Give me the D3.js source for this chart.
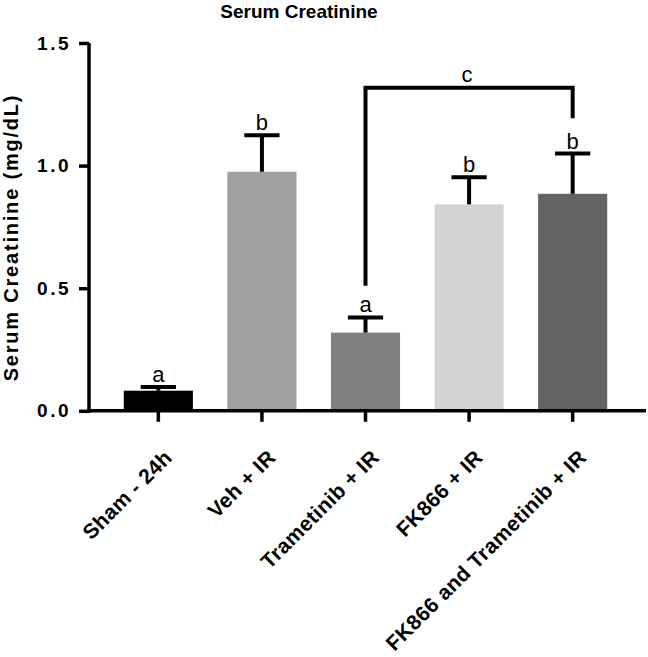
<!DOCTYPE html>
<html>
<head>
<meta charset="utf-8">
<script src="https://cdn.jsdelivr.net/npm/d3@7"></script>
<style>
  html, body { margin: 0; padding: 0; background: #fff; }
  svg { display: block; }
  text { font-family: "Liberation Sans", Arial, sans-serif; fill: #000; }
</style>
</head>
<body>
<svg id="chart" width="648" height="657"></svg>
<script>
// ---- data ----
const categories = ["Sham - 24h", "Veh + IR", "Trametinib + IR", "FK866 + IR", "FK866 and Trametinib + IR"];
const means      = [0.082, 0.975, 0.319, 0.842, 0.885];
const errors     = [0.015, 0.149, 0.062, 0.110, 0.164];
const colors     = ["#000000", "#a0a0a0", "#808080", "#d3d3d3", "#636363"];
const letters    = ["a", "b", "a", "b", "b"];
const yTicks     = [0, 0.5, 1.0, 1.5];
const bracket    = { from: 2, to: 4, level: 1.317, fromEnd: 0.51, toEnd: 1.193, label: "c" };
const title      = "Serum Creatinine";
const yLabel     = "Serum Creatinine (mg/dL)";

// ---- layout ----
const svg = d3.select("#chart");
svg.append("rect").attr("width", 648).attr("height", 657).attr("fill", "#fff");

const axisX0 = 89, axisX1 = 646;
const y = d3.scaleLinear().domain([0, 1.5]).range([410.8, 43]);
const x = d3.scaleBand().domain(categories).range([89.3, 641.7])
  .paddingInner(0.333).paddingOuter(0.333);
const bw = x.bandwidth();
const cx = c => x(c) + bw / 2;

// bars
svg.append("g").selectAll("rect").data(categories).join("rect")
  .attr("x", d => x(d))
  .attr("y", (d, i) => y(means[i]))
  .attr("width", bw)
  .attr("height", (d, i) => y(0) - y(means[i]))
  .attr("fill", (d, i) => colors[i]);

// error bars (upper only)
const eb = svg.append("g").attr("stroke", "#000").attr("stroke-width", 4);
categories.forEach((c, i) => {
  const top = y(means[i] + errors[i]);
  eb.append("line").attr("x1", cx(c)).attr("x2", cx(c))
    .attr("y1", y(means[i])).attr("y2", top);
  eb.append("line").attr("x1", cx(c) - bw * 0.255).attr("x2", cx(c) + bw * 0.255)
    .attr("y1", top).attr("y2", top);
});

// significance letters
svg.append("g").selectAll("text").data(categories).join("text")
  .attr("x", d => cx(d))
  .attr("y", (d, i) => y(means[i] + errors[i]) - 5)
  .attr("text-anchor", "middle")
  .style("font-size", "22px")
  .text((d, i) => letters[i]);

// bracket
const bx1 = cx(categories[bracket.from]), bx2 = cx(categories[bracket.to]);
svg.append("path")
  .attr("d", `M${bx1},${y(bracket.fromEnd)}V${y(bracket.level)}H${bx2}V${y(bracket.toEnd)}`)
  .attr("fill", "none").attr("stroke", "#000").attr("stroke-width", 4)
  .attr("stroke-linejoin", "miter");
svg.append("text")
  .attr("x", (bx1 + bx2) / 2 - 2)
  .attr("y", y(bracket.level) - 6)
  .attr("text-anchor", "middle")
  .style("font-size", "22px")
  .text(bracket.label);

// y axis
const yAxis = svg.append("g").attr("transform", `translate(${axisX0},0)`)
  .call(d3.axisLeft(y).tickValues(yTicks).tickFormat(d3.format(".1f")).tickSize(10).tickPadding(8));
yAxis.select(".domain").remove();
yAxis.selectAll(".tick line").attr("stroke", "#000").attr("stroke-width", 3.5);
yAxis.selectAll(".tick text")
  .style("font-size", "19px").style("font-weight", "bold")
  .style("letter-spacing", "2.5px")
  .attr("font-family", null);
svg.append("line").attr("x1", axisX0).attr("x2", axisX0)
  .attr("y1", y(0) + 2).attr("y2", y(1.5))
  .attr("stroke", "#000").attr("stroke-width", 3.5);

// x axis
const xAxis = svg.append("g").attr("transform", `translate(0,${y(0)})`)
  .call(d3.axisBottom(x).tickSize(11).tickFormat(""));
xAxis.select(".domain").remove();
xAxis.selectAll(".tick line").attr("stroke", "#000").attr("stroke-width", 3.5);
svg.append("line").attr("x1", axisX0 - 1.75).attr("x2", axisX1)
  .attr("y1", y(0)).attr("y2", y(0))
  .attr("stroke", "#000").attr("stroke-width", 3.5);

// x labels, rotated
svg.append("g").selectAll("text").data(categories).join("text")
  .attr("transform", d => `translate(${cx(d) + 15},${y(0) + 48}) rotate(-45)`)
  .attr("text-anchor", "end")
  .style("font-size", "21px").style("font-weight", "bold")
  .style("letter-spacing", "0.4px")
  .text(d => d);

// y label
svg.append("text")
  .attr("transform", `translate(18,237.5) rotate(-90)`)
  .attr("text-anchor", "middle")
  .style("font-size", "20px").style("font-weight", "bold")
  .style("letter-spacing", "1.8px")
  .text(yLabel);

// title
svg.append("text")
  .attr("x", 299).attr("y", 18)
  .attr("text-anchor", "middle")
  .style("font-size", "19px").style("font-weight", "bold")
  .text(title);
</script>
</body>
</html>
